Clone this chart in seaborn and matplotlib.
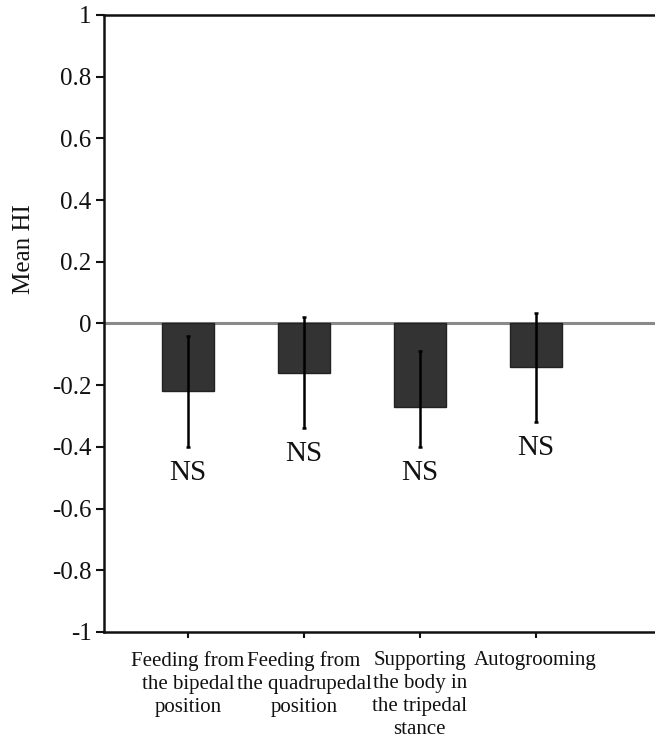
import matplotlib
matplotlib.use("Agg")
import matplotlib.pyplot as plt
import seaborn as sns
import pandas as pd
import numpy as np

# Mean handedness index per behaviour, with error bar extents
behaviours = [
    "Feeding from\nthe bipedal\nposition",
    "Feeding from\nthe quadrupedal\nposition",
    "Supporting\nthe body in\nthe tripedal\nstance",
    "Autogrooming",
]
mean_hi = [-0.22, -0.16, -0.27, -0.14]
err_lower = [0.18, 0.18, 0.13, 0.18]
err_upper = [0.18, 0.18, 0.18, 0.175]
sig_labels = ["NS", "NS", "NS", "NS"]
y_ticks = [-1, -0.8, -0.6, -0.4, -0.2, 0, 0.2, 0.4, 0.6, 0.8, 1]
y_tick_labels = ["-1", "-0.8", "-0.6", "-0.4", "-0.2", "0", "0.2", "0.4", "0.6", "0.8", "1"]

df = pd.DataFrame({"behaviour": behaviours, "mean_hi": mean_hi})

sns.set_theme(style="white")
plt.rcParams["font.family"] = ["Liberation Serif", "DejaVu Serif"]

fig = plt.figure(figsize=(6.55, 7.47), dpi=100)
ax = fig.add_axes([0.159, 0.154, 0.841, 0.826])

sns.barplot(data=df, x="behaviour", y="mean_hi", color="#333333",
            saturation=1, width=0.45, errorbar=None, edgecolor="#222222",
            linewidth=1, ax=ax, zorder=2)

xpos = np.arange(len(behaviours))
ax.errorbar(xpos, mean_hi, yerr=[err_lower, err_upper], fmt="none",
            ecolor="black", elinewidth=1.8, capsize=1.5, capthick=1.8, zorder=3)

ax.axhline(0, color="#8a8a8a", linewidth=2.2, zorder=1)

for x, m, lo, lab in zip(xpos, mean_hi, err_lower, sig_labels):
    ax.annotate(lab, xy=(x, m - lo), xytext=(0, -26), textcoords="offset pixels",
                ha="center", va="center", fontsize=21, color="#111111")

ax.set_ylim(-1, 1)
ax.set_xlim(-0.724, 4.03)
ax.set_yticks(y_ticks)
ax.set_yticklabels(y_tick_labels)
ax.tick_params(axis="y", direction="out", length=6, width=1.5, labelsize=18,
               left=True, pad=3, colors="#111111")
ax.tick_params(axis="x", direction="out", length=4, width=1.5, labelsize=15,
               bottom=True, pad=10, colors="#111111")
for lab in ax.get_xticklabels():
    lab.set_va("top")
    lab.set_linespacing(1.28)

ax.set_xlabel("")
ax.set_ylabel("Mean HI", fontsize=18, color="#111111")
ax.yaxis.set_label_coords(-0.125, 0.62)

for side in ["left", "bottom", "top"]:
    ax.spines[side].set_visible(True)
    ax.spines[side].set_color("#111111")
    ax.spines[side].set_linewidth(1.8)
ax.spines["right"].set_visible(False)

fig.savefig("out.png", dpi=100)
